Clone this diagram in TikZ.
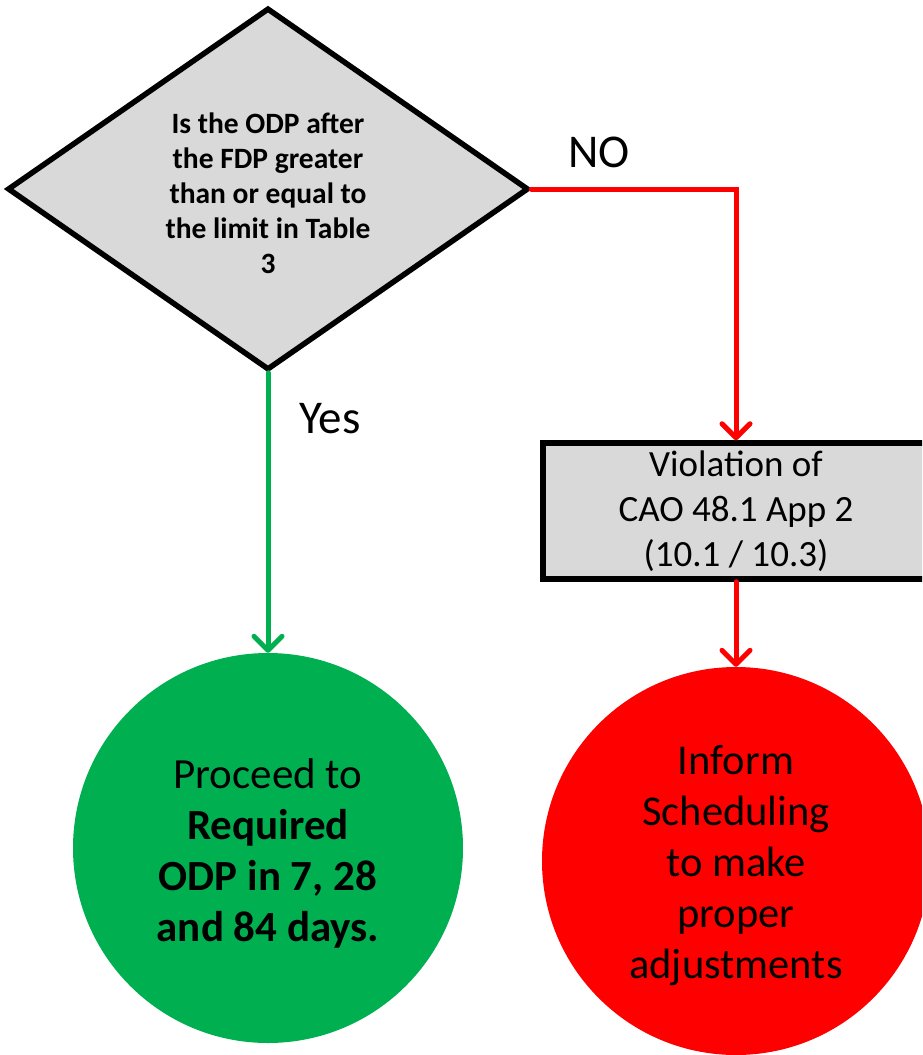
\documentclass[tikz,border=0pt]{standalone}
\usepackage{fontspec}
\setmainfont{Carlito}
\usetikzlibrary{arrows.meta,shapes.geometric}
\definecolor{ggreen}{HTML}{00B050}
\definecolor{rred}{HTML}{FF0000}
\definecolor{lgray}{HTML}{D9D9D9}
\begin{document}
\begin{tikzpicture}[x=1pt,y=-1pt,
  conn/.style={line width=5pt, line cap=round,
    -{Straight Barb[length=14pt,width=28pt,line cap=round,line join=round]}},
  grayshape/.style={draw=black, line width=5.5pt, fill=lgray, inner sep=0pt},
  lbl/.style={font=\fontsize{47}{52}\selectfont, inner sep=0pt},
  bigtext/.style={align=center, inner sep=0pt}]
\useasboundingbox (0,0) rectangle (922,1055);
\clip (0,0) rectangle (922,1055);
% decision
\node[grayshape, diamond, minimum width=521pt, minimum height=362pt] (dia) at (268,189) {};
\node[font=\bfseries\fontsize{29.5}{35}\selectfont, align=center, inner sep=0pt] (q) at (268,193)
  {Is the ODP after\\the FDP greater\\than or equal to\\the limit in Table\\3};
% violation box
\node[grayshape, minimum width=386pt, minimum height=136pt,
  font=\fontsize{37}{45}\selectfont, align=center] (viol) at (736,511)
  {Violation of\\CAO 48.1 App 2\\(10.1 / 10.3)};
% circles
\node[circle, fill=ggreen, minimum size=390pt, inner sep=0pt] (gc) at (268,848) {};
\node[bigtext, font=\fontsize{43}{51}\selectfont] (gt) at (268,853)
  {Proceed to\\\textbf{Required}\\\textbf{ODP in 7, 28}\\\textbf{and 84 days.}};
\node[circle, fill=rred, minimum size=388pt, inner sep=0pt] (rc) at (736,861) {};
\node[bigtext, font=\fontsize{42.5}{51}\selectfont] (rt) at (736,866)
  {Inform\\Scheduling\\to make\\proper\\adjustments};
% connectors
\draw[conn, rred] (dia.east) -| (viol.north);
\draw[conn, rred] (viol.south) -- (rc.north);
\draw[conn, ggreen] (dia.south) -- (gc.north);
% labels
\node[lbl] (no) at (599,152) {NO};
\node[lbl] (yes) at (330,419) {Yes};
\end{tikzpicture}
\end{document}
